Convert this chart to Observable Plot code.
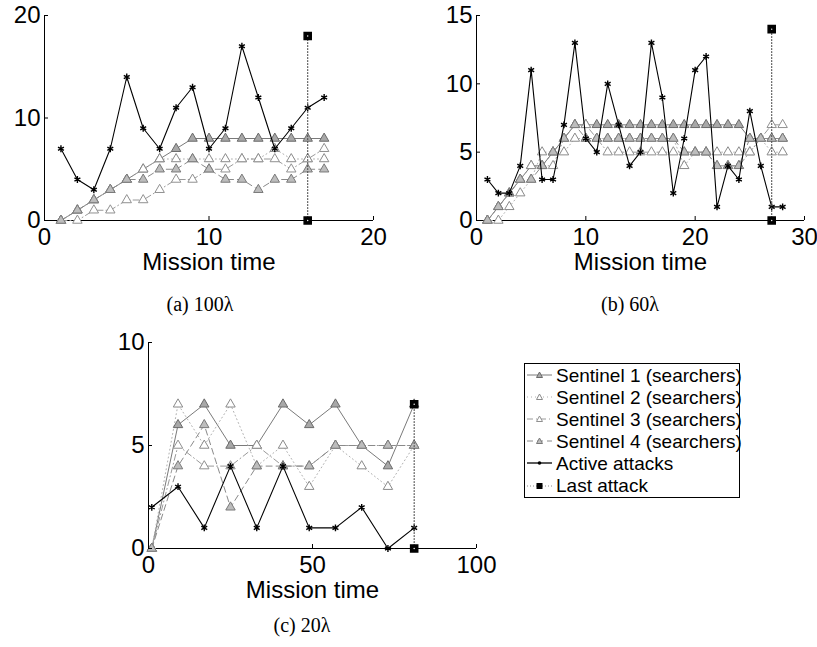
<!DOCTYPE html>
<html><head><meta charset="utf-8">
<script src="https://cdn.jsdelivr.net/npm/d3@7"></script>
<script src="https://cdn.jsdelivr.net/npm/@observablehq/plot@0.6"></script>
<style>
body{margin:0;background:#fff;}
#root{position:relative;width:817px;height:647px;overflow:hidden;font-family:"Liberation Sans",Arial,sans-serif;background:#fff;}
.panel{position:absolute;}
.cap{position:absolute;font-family:"Liberation Serif","Times New Roman",serif;font-size:20px;transform:translate(-50%,-50%);white-space:nowrap;color:#000;}
#legend{position:absolute;left:524px;top:363px;width:214px;height:133px;border:1px solid #000;background:#fff;box-sizing:content-box;}
.lrow{height:22.1px;display:flex;align-items:center;font-size:19px;line-height:1;white-space:nowrap;}
.lrow svg{margin-left:1px;margin-right:3px;flex:none;}
</style></head><body><div id="root"></div>
<script>
// ---------- data ----------
// (a) 100λ
const timeA   = [1,2,3,4,5,6,7,8,9,10,11,12,13,14,15,16,17];
const activeA = [7,4,3,7,14,9,7,11,13,7,9,17,12,7,9,11,12];
const sen1A   = [0,1,2,3,4,5,6,7,8,8,8,8,8,8,8,8,8];
const sen2A   = [0,1,2,3,4,5,6,6,6,6,6,6,6,7,6,6,6];
const sen3A   = [0,0,1,1,2,2,3,4,4,5,5,6,6,6,5,6,7];
const sen4A   = [0,1,2,3,4,4,5,5,6,5,4,4,3,4,4,5,5];
const lastTimeA = 16, lastValueA = 18;
// (b) 60λ
const timeB   = [1,2,3,4,5,6,7,8,9,10,11,12,13,14,15,16,17,18,19,20,21,22,23,24,25,26,27,28];
const activeB = [3,2,2,4,11,3,3,7,13,6,5,10,7,4,5,13,9,2,6,11,12,1,4,3,8,4,1,1];
const sen1B   = [0,1,2,3,4,4,5,6,7,7,7,7,7,7,7,7,7,7,7,7,7,7,7,7,6,6,6,6];
const sen2B   = [0,0,1,2,3,5,5,5,6,6,6,6,6,6,6,6,6,6,4,5,5,5,5,5,5,6,5,5];
const sen3B   = [0,1,2,3,4,4,4,6,7,7,6,5,5,5,5,5,5,5,5,5,5,4,4,4,5,6,7,7];
const sen4B   = [0,1,2,3,3,4,5,6,7,6,6,6,6,6,6,6,6,6,5,5,5,4,4,4,6,6,6,6];
const lastTimeB = 27, lastValueB = 14;
// (c) 20λ
const timeC   = [1,9,17,25,33,41,49,57,65,73,81];
const activeC = [2,3,1,4,1,4,1,1,2,0,1];
const sen1C   = [0,6,7,5,5,7,6,7,5,4,7];
const sen2C   = [0,7,5,7,4,5,3,5,4,3,5];
const sen3C   = [0,5,4,4,5,4,4,5,5,5,5];
const sen4C   = [0,4,6,2,4,4,4,5,5,5,5];
const lastTimeC = 81, lastValueC = 7;

const seriesNames = ["Sentinel 1 (searchers)","Sentinel 2 (searchers)","Sentinel 3 (searchers)","Sentinel 4 (searchers)","Active attacks","Last attack"];
const captions = ["(a) 100\u03bb","(b) 60\u03bb","(c) 20\u03bb"];
const xTicksA = [0,10,20], yTicksA = [0,10,20];
const xTicksB = [0,10,20,30], yTicksB = [0,5,10,15];
const xTicksC = [0,50,100], yTicksC = [0,5,10];

// ---------- styles ----------
const senStyle = [
  {line:"#7a7a7a", dash:null,        fill:"#a8a8a8", stroke:"#6a6a6a"},
  {line:"#b0b0b0", dash:"1,3",       fill:"#ffffff", stroke:"#8a8a8a"},
  {line:"#9a9a9a", dash:"6,3,1,3",   fill:"#ffffff", stroke:"#909090"},
  {line:"#8a8a8a", dash:"6,4",       fill:"#bdbdbd", stroke:"#7a7a7a"}
];

function panel({time, sens, active, lastT, lastV, xDomain, yDomain, xTicks, yTicks, width, height, margins}) {
  const marks = [];
  marks.push(Plot.ruleX([xDomain[0]], {stroke:"#000", strokeWidth:1}));
  marks.push(Plot.ruleY([yDomain[0]], {stroke:"#000", strokeWidth:1}));
  sens.forEach((vals, i) => {
    const rows = time.map((t, k) => ({t, v: vals[k]}));
    const st = senStyle[i];
    marks.push(Plot.line(rows, {x:"t", y:"v", stroke: st.line, strokeWidth:1, strokeDasharray: st.dash || undefined}));
  });
  sens.forEach((vals, i) => {
    const rows = time.map((t, k) => ({t, v: vals[k]}));
    const st = senStyle[i];
    marks.push(Plot.dot(rows, {x:"t", y:"v", symbol:"triangle", r:3.5, fill: st.fill, stroke: st.stroke, strokeWidth:1}));
  });
  const act = time.map((t, k) => ({t, v: active[k]}));
  marks.push(Plot.line(act, {x:"t", y:"v", stroke:"#000", strokeWidth:1.1}));
  marks.push(Plot.dot(act, {x:"t", y:"v", symbol:"asterisk", r:3.2, stroke:"#000", strokeWidth:1.4}));
  const last = [{t:lastT, v:yDomain[0]}, {t:lastT, v:lastV}];
  marks.push(Plot.line(last, {x:"t", y:"v", stroke:"#555", strokeWidth:1.2, strokeDasharray:"1,2"}));
  marks.push(Plot.dot(last, {x:"t", y:"v", symbol:"square", r:4, fill:"#000", stroke:"#000"}));
  marks.push(Plot.dot(last, {x:"t", y:"v", r:0.7, fill:"#fff"}));
  marks.push(Plot.axisX(xTicks, {tickSize:-4, tickFormat:() => "", stroke:"#000"}));
  marks.push(Plot.axisX(xTicks, {tickSize:0, tickPadding:7, fontSize:24, fill:"#000"}));
  marks.push(Plot.axisY(yTicks, {tickSize:-4, tickFormat:() => "", stroke:"#000"}));
  marks.push(Plot.axisY(yTicks, {tickSize:0, tickPadding:4, fontSize:24, fill:"#000"}));
  marks.push(Plot.text(["Mission time"], {frameAnchor:"bottom", dy:42, fontSize:24, lineAnchor:"middle", fill:"#000"}));
  return Plot.plot({
    width, height,
    marginLeft: margins[0], marginRight: margins[1], marginTop: margins[2], marginBottom: margins[3],
    x: {domain: xDomain, label: null},
    y: {domain: yDomain, label: null},
    style: {fontFamily:"'Liberation Sans', Arial, sans-serif", fontSize:"24px", background:"transparent", overflow:"visible", color:"#000"},
    marks
  });
}

const root = document.getElementById("root");
function place(el, left, top) {
  const d = document.createElement("div");
  d.className = "panel"; d.style.left = left + "px"; d.style.top = top + "px";
  d.appendChild(el); root.appendChild(d);
}
place(panel({time:timeA, sens:[sen1A,sen2A,sen3A,sen4A], active:activeA, lastT:lastTimeA, lastV:lastValueA,
  xDomain:[0,20], yDomain:[0,20], xTicks:xTicksA, yTicks:yTicksA, width:390, height:285, margins:[44,17,15,65]}), 0, 0);
place(panel({time:timeB, sens:[sen1B,sen2B,sen3B,sen4B], active:activeB, lastT:lastTimeB, lastV:lastValueB,
  xDomain:[0,30], yDomain:[0,15], xTicks:xTicksB, yTicks:yTicksB, width:417, height:285, margins:[76,13,15,65]}), 400, 0);
place(panel({time:timeC, sens:[sen1C,sen2C,sen3C,sen4C], active:activeC, lastT:lastTimeC, lastV:lastValueC,
  xDomain:[0,100], yDomain:[0,10], xTicks:xTicksC, yTicks:yTicksC, width:400, height:285, margins:[48,24,22,57]}), 100, 320);

[[200,304],[630,304],[302,625]].forEach(([x,y], i) => {
  const c = document.createElement("div");
  c.className = "cap"; c.style.left = x + "px"; c.style.top = y + "px";
  c.textContent = captions[i]; root.appendChild(c);
});

const legend = document.createElement("div");
legend.id = "legend";
const NS = "http://www.w3.org/2000/svg";
seriesNames.forEach((name, i) => {
  const row = document.createElement("div"); row.className = "lrow";
  const svg = document.createElementNS(NS, "svg");
  svg.setAttribute("width", 27); svg.setAttribute("height", 14);
  const ln = document.createElementNS(NS, "line");
  ln.setAttribute("x1", 1); ln.setAttribute("x2", 26); ln.setAttribute("y1", 7); ln.setAttribute("y2", 7);
  let mk;
  if (i < 4) {
    const st = senStyle[i];
    ln.setAttribute("stroke", st.line); if (st.dash) ln.setAttribute("stroke-dasharray", st.dash);
    mk = document.createElementNS(NS, "path");
    mk.setAttribute("d", "M13.5,4L16.5,9.5H10.5Z");
    mk.setAttribute("fill", st.fill); mk.setAttribute("stroke", st.stroke);
  } else if (i === 4) {
    ln.setAttribute("stroke", "#000"); ln.setAttribute("stroke-width", 1.3);
    mk = document.createElementNS(NS, "circle");
    mk.setAttribute("cx", 13.5); mk.setAttribute("cy", 7); mk.setAttribute("r", 1.8); mk.setAttribute("fill", "#000");
  } else {
    ln.setAttribute("stroke", "#888"); ln.setAttribute("stroke-dasharray", "1,2");
    mk = document.createElementNS(NS, "rect");
    mk.setAttribute("x", 10.5); mk.setAttribute("y", 4); mk.setAttribute("width", 6); mk.setAttribute("height", 6); mk.setAttribute("fill", "#000");
  }
  svg.appendChild(ln); svg.appendChild(mk);
  const sp = document.createElement("span"); sp.textContent = name;
  row.appendChild(svg); row.appendChild(sp); legend.appendChild(row);
});
root.appendChild(legend);
</script>
</body></html>
